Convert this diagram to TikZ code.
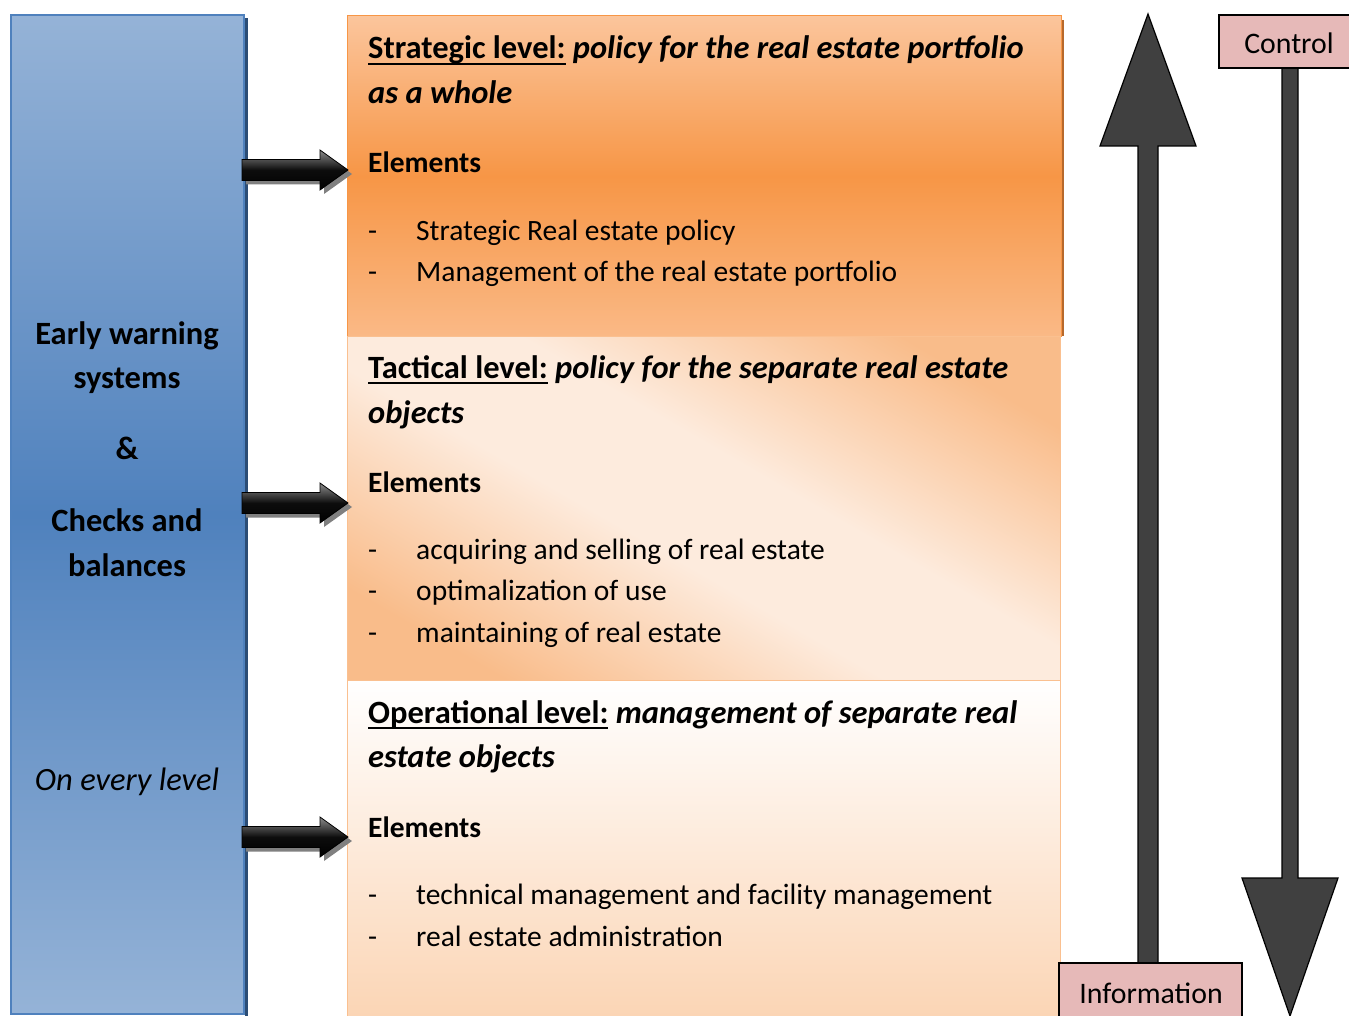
\documentclass[tikz,border=0pt]{standalone}
\usepackage{fontspec}
\setmainfont{Carlito}
\definecolor{bluemid}{HTML}{4F81BD}
\definecolor{bluelight}{HTML}{95B3D7}
\definecolor{blueshadow}{HTML}{2C4D75}
\definecolor{orangemid}{HTML}{F79646}
\definecolor{orangelight}{HTML}{FBC59C}
\definecolor{orangebot}{HTML}{FAB986}
\definecolor{peach}{HTML}{F9BC8A}
\definecolor{cream}{HTML}{FDEBDD}
\definecolor{opbot}{HTML}{FBD5B5}
\definecolor{pinkbox}{HTML}{E6B9B8}
\definecolor{arrowgray}{HTML}{404040}
\definecolor{orangeshadow}{HTML}{B7692C}
\definecolor{peachline}{HTML}{FAC090}
\pgfdeclareverticalshading{tactshade}{100bp}{color(0bp)=(peach); color(24bp)=(peach); color(44bp)=(cream); color(56bp)=(cream); color(76bp)=(peach); color(100bp)=(peach)}
\newcommand\myul[1]{\setbox0\hbox{#1}\rlap{\rule[-0.19em]{\wd0}{0.065em}}\box0}
\begin{document}
\begin{tikzpicture}[x=1pt,y=-1pt,
  txt/.style={anchor=base west, inner sep=0pt, font=\fontsize{29.5}{35}\selectfont},
  head/.style={anchor=base west, inner sep=0pt, font=\fontsize{32.5}{38}\selectfont},
  ctxt/.style={anchor=base, inner sep=0pt, font=\fontsize{29.8}{35}\selectfont},
  ltxt/.style={anchor=base, inner sep=0pt, font=\fontsize{32.5}{38}\selectfont},
  blockarrow/.style={draw=black, line width=0.8pt, top color=black!45, bottom color=black, middle color=black!95},
  arrowshadow/.style={fill=black!50},
  bigarrow/.style={draw=black, line width=1.2pt, fill=arrowgray},
  labelbox/.style={draw=black, line width=1.5pt, fill=pinkbox}]
\useasboundingbox (0,0) rectangle (1349,1016);
\clip (0,0) rectangle (1349,1016);
% left box
\fill[blueshadow] (245,18) rectangle (248,1016);
\draw[bluemid, line width=2pt, top color=bluelight, bottom color=bluelight, middle color=bluemid] (11,15) rectangle (244,1014);
% orange panel
\fill[orangeshadow] (1060,20) rectangle (1064,336);
\draw[orangemid, line width=1pt, top color=orangelight, bottom color=orangebot, middle color=orangemid] (347,16) rectangle (1061,336);
\draw[peachline, line width=1pt, shading=tactshade, shading angle=-30] (347,336) rectangle (1060,680);
\draw[peachline, line width=1pt, top color=white, bottom color=opbot] (347,680) rectangle (1060,1016);
% block arrows
\foreach \y in {170,503,837} {
  \fill[arrowshadow] (246,\y-6.5) -- (324,\y-6.5) -- (324,\y-16) -- (352,\y+4) -- (324,\y+24) -- (324,\y+14.5) -- (246,\y+14.5) -- cycle;
  \draw[blockarrow] (242,\y-10.5) -- (320,\y-10.5) -- (320,\y-20) -- (348,\y) -- (320,\y+20) -- (320,\y+10.5) -- (242,\y+10.5) -- cycle;
}
% vertical arrows
\draw[bigarrow] (1138,963) -- (1138,146) -- (1100,146) -- (1148,14) -- (1196,146) -- (1158,146) -- (1158,963) -- cycle;
\draw[bigarrow] (1282,68) -- (1282,878) -- (1242,878) -- (1290,1016) -- (1338,878) -- (1298,878) -- (1298,68) -- cycle;
% label boxes
\draw[labelbox] (1219,15) rectangle (1365,68);
\node[ctxt] (ctrl) at (1289,54) {Control};
\draw[labelbox] (1059,963) rectangle (1242,1030);
\node[ctxt] (info) at (1151,1003) {Information};
% left texts
\node[ltxt] (l1) at (127,344) {\textbf{Early warning}};
\node[ltxt] (l2) at (127,388) {\textbf{systems}};
\node[ltxt] (l3) at (127,459) {\textbf{\&}};
\node[ltxt] (l4) at (127,531) {\textbf{Checks and}};
\node[ltxt] (l5) at (127,576) {\textbf{balances}};
\node[ltxt] (l6) at (127,790) {\textit{On every level}};
% strategic
\node[head] (s1) at (368,59) {\textbf{\myul{Strategic level:}} \textbf{\textit{policy for the real estate portfolio}}};
\node[head] (s2) at (368,104) {\textbf{\textit{as a whole}}};
\node[txt] (s3) at (368,173) {\textbf{Elements}};
\node[txt] (s4d) at (368,241) {-};
\node[txt] (s4) at (416,241) {Strategic Real estate policy};
\node[txt] (s5d) at (368,282) {-};
\node[txt] (s5) at (416,282) {Management of the real estate portfolio};
% tactical
\node[head] (t1) at (368,378) {\textbf{\myul{Tactical level:}} \textbf{\textit{policy for the separate real estate}}};
\node[head] (t2) at (368,423) {\textbf{\textit{objects}}};
\node[txt] (t3) at (368,492) {\textbf{Elements}};
\node[txt] (t4d) at (368,559) {-};
\node[txt] (t4) at (416,559) {acquiring and selling of real estate};
\node[txt] (t5d) at (368,600) {-};
\node[txt] (t5) at (416,600) {optimalization of use};
\node[txt] (t6d) at (368,642) {-};
\node[txt] (t6) at (416,642) {maintaining of real estate};
% operational
\node[head] (o1) at (368,723) {\textbf{\myul{Operational level:}} \textbf{\textit{management of separate real}}};
\node[head] (o2) at (368,767) {\textbf{\textit{estate objects}}};
\node[txt] (o3) at (368,837) {\textbf{Elements}};
\node[txt] (o4d) at (368,904) {-};
\node[txt] (o4) at (416,904) {technical management and facility management};
\node[txt] (o5d) at (368,946) {-};
\node[txt] (o5) at (416,946) {real estate administration};
\end{tikzpicture}
\end{document}
